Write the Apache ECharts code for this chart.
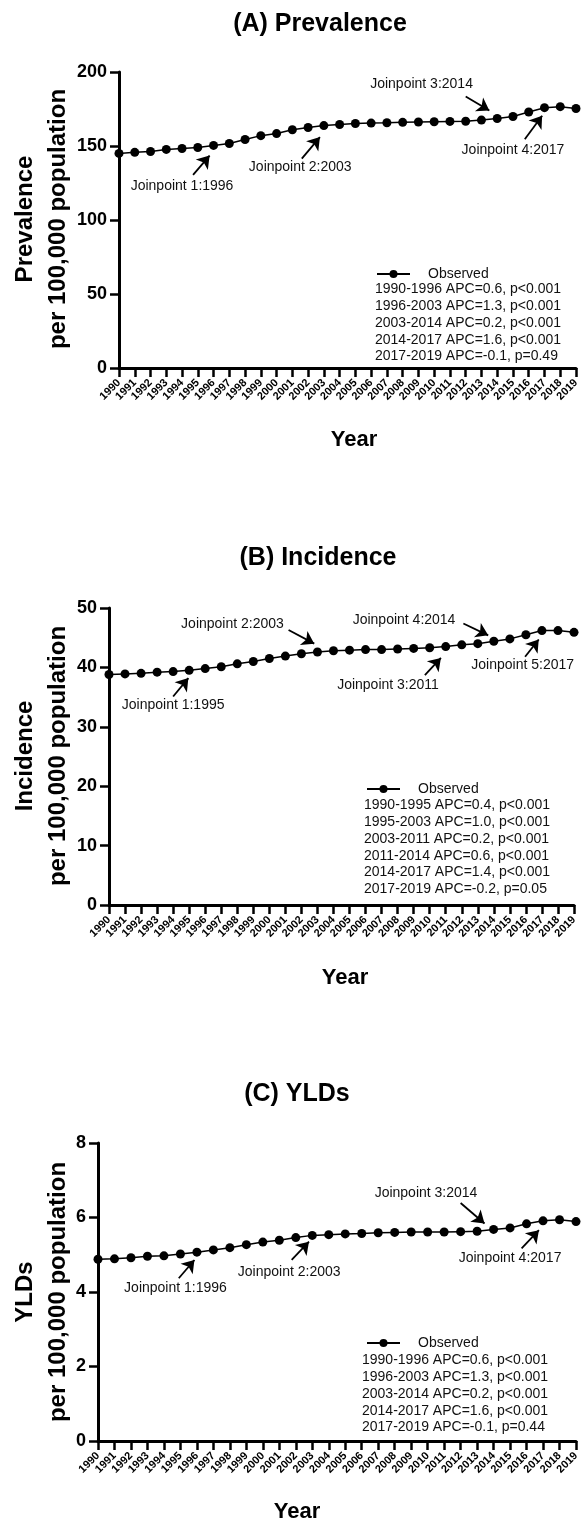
<!DOCTYPE html>
<html>
<head>
<meta charset="utf-8">
<script src="https://cdn.jsdelivr.net/npm/echarts@6/dist/echarts.min.js"></script>
<style>
html,body{margin:0;padding:0;background:#fff;}
#c{width:584px;height:1523px;}
</style>
</head>
<body>
<div id="c"></div>
<script>
const years = [1990,1991,1992,1993,1994,1995,1996,1997,1998,1999,2000,2001,2002,2003,2004,2005,2006,2007,2008,2009,2010,2011,2012,2013,2014,2015,2016,2017,2018,2019];
const prevalence = [145.0,145.7,146.3,147.7,148.3,149.0,150.4,151.7,154.4,157.0,158.4,161.0,162.5,163.8,164.5,165.2,165.5,165.7,166.0,166.2,166.4,166.6,166.7,167.5,168.6,169.9,173.0,175.9,176.6,175.3];
const incidence = [38.8,38.9,39.0,39.2,39.3,39.5,39.8,40.1,40.6,41.0,41.5,41.9,42.3,42.6,42.8,42.9,43.0,43.0,43.1,43.2,43.3,43.5,43.8,44.0,44.4,44.8,45.5,46.2,46.2,45.9];
const ylds = [4.88,4.89,4.92,4.96,4.97,5.02,5.07,5.13,5.19,5.27,5.34,5.39,5.46,5.52,5.54,5.56,5.57,5.59,5.60,5.61,5.61,5.61,5.62,5.63,5.68,5.72,5.83,5.91,5.94,5.89];

const titles = ['(A) Prevalence','(B) Incidence','(C) YLDs'];
const yNames = ['Prevalence\nper 100,000 population','Incidence\nper 100,000 population','YLDs\nper 100,000 population'];
const yMax = [200,50,8];
const yInterval = [50,10,2];

const apcA = ['1990-1996 APC=0.6, p<0.001','1996-2003 APC=1.3, p<0.001','2003-2014 APC=0.2, p<0.001','2014-2017 APC=1.6, p<0.001','2017-2019 APC=-0.1, p=0.49'];
const apcB = ['1990-1995 APC=0.4, p<0.001','1995-2003 APC=1.0, p<0.001','2003-2011 APC=0.2, p<0.001','2011-2014 APC=0.6, p<0.001','2014-2017 APC=1.4, p<0.001','2017-2019 APC=-0.2, p=0.05'];
const apcC = ['1990-1996 APC=0.6, p<0.001','1996-2003 APC=1.3, p<0.001','2003-2014 APC=0.2, p<0.001','2014-2017 APC=1.6, p<0.001','2017-2019 APC=-0.1, p=0.44'];

// annotations: label, text anchor [year, value], arrow tail, arrow tip
const notesA = [
  ['Joinpoint 1:1996',[1994.0,123],[1994.7,130.5],[1995.75,143.5]],
  ['Joinpoint 2:2003',[2001.5,135.5],[2001.6,141.5],[2002.75,156]],
  ['Joinpoint 3:2014',[2009.2,192],[2012.0,183.5],[2013.5,174]],
  ['Joinpoint 4:2017',[2015.0,147],[2015.75,154.5],[2016.85,170.5]]
];
const notesB = [
  ['Joinpoint 1:1995',[1994.0,33.6],[1994.0,35.1],[1994.95,38.2]],
  ['Joinpoint 2:2003',[1997.7,47.2],[2001.2,46.3],[2002.8,44.0]],
  ['Joinpoint 3:2011',[2007.4,37.0],[2009.7,38.7],[2010.7,41.6]],
  ['Joinpoint 4:2014',[2008.4,47.9],[2012.1,47.4],[2013.65,45.4]],
  ['Joinpoint 5:2017',[2015.8,40.4],[2015.95,41.8],[2016.8,44.7]]
];
const notesC = [
  ['Joinpoint 1:1996',[1994.7,4.10],[1994.9,4.37],[1995.85,4.86]],
  ['Joinpoint 2:2003',[2001.6,4.54],[2001.75,4.86],[2002.8,5.35]],
  ['Joinpoint 3:2014',[2009.9,6.66],[2012.0,6.39],[2013.45,5.84]],
  ['Joinpoint 4:2017',[2015.0,4.90],[2015.7,5.17],[2016.75,5.66]]
];

const FONT = "'Liberation Sans', Arial, Helvetica, sans-serif";
const grids = [
  {left:119, top:72, width:457, height:296},
  {left:109, top:608, width:465, height:297},
  {left:98, top:1143, width:478, height:298}
];
const seriesVals = [prevalence, incidence, ylds];
const notes = [notesA, notesB, notesC];

const xAxes = grids.map((g,i)=>({
  type:'value', gridIndex:i, min:1990, max:2019, interval:1,
  axisLine:{show:true, lineStyle:{color:'#000', width:3}},
  axisTick:{show:true, length:9, lineStyle:{color:'#000', width:2.5}},
  splitLine:{show:false},
  axisLabel:{rotate:45, fontSize:11, fontWeight:'bold', color:'#000', fontFamily:FONT, margin:13, formatter:(v)=>String(v)}
}));
const yAxes = grids.map((g,i)=>({
  type:'value', gridIndex:i, min:0, max:yMax[i], interval:yInterval[i],
  axisLine:{show:true, lineStyle:{color:'#000', width:3}},
  axisTick:{show:true, length:9, lineStyle:{color:'#000', width:2.5}},
  splitLine:{show:false},
  axisLabel:{fontSize:18, fontWeight:'bold', color:'#000', fontFamily:FONT, margin:12}
}));

const series = seriesVals.map((vals,i)=>({
  name:'Observed', type:'line', xAxisIndex:i, yAxisIndex:i,
  data: years.map((y,k)=>[y, vals[k]]),
  symbol:'circle', symbolSize:9,
  lineStyle:{color:'#000', width:1.5},
  itemStyle:{color:'#000'},
  markLine:{
    silent:true, symbol:['none','arrow'], symbolSize:12,
    lineStyle:{color:'#000', width:1.8, type:'solid'},
    label:{show:false},
    data: notes[i].map(n=>[{coord:n[2]},{coord:n[3]}])
  },
  markPoint:{
    silent:true, symbol:'circle', symbolSize:0,
    label:{show:true, position:'inside', color:'#111', fontSize:14, fontFamily:FONT, formatter:'{b}'},
    data: notes[i].map(n=>({name:n[0], coord:n[1]}))
  }
}));

const legendPos = [{left:376, top:267},{left:366, top:782},{left:366, top:1336}];
const legends = legendPos.map(p=>({
  data:['Observed'], left:p.left, top:p.top, itemWidth:33, itemHeight:10, padding:0,
  selectedMode:false,
  textStyle:{fontSize:14, color:'#111', fontFamily:FONT, padding:[0,0,0,13]}
}));

const apcBlocks = [
  {lines:apcA, x:375, y:281},
  {lines:apcB, x:364, y:797},
  {lines:apcC, x:362, y:1352}
];
const graphics = [];
apcBlocks.forEach(b=>{
  graphics.push({type:'text', left:b.x, top:b.y, style:{text:b.lines.join('\n'), font:'14px '+FONT, fill:'#111', lineHeight:16.8}});
});
const yNameCenters = [219, 756, 1292];
yNameCenters.forEach((cy,i)=>{
  graphics.push({type:'text', x:42, y:cy, rotation:Math.PI/2,
    style:{text:yNames[i], font:'bold 24px '+FONT, fill:'#000', textAlign:'center', textVerticalAlign:'middle', lineHeight:33}});
});
const yearPos = [[354,440],[345,978],[297,1512]];
yearPos.forEach(p=>{
  graphics.push({type:'text', x:p[0], y:p[1], style:{text:'Year', font:'bold 22px '+FONT, fill:'#000', textAlign:'center', textVerticalAlign:'middle'}});
});

const titleCenters = [[320,12],[318,546],[297,1082]];
const titleComps = titleCenters.map((t,i)=>({
  text:titles[i], left:t[0], top:t[1], textAlign:'center', padding:0,
  textStyle:{fontSize:25, fontWeight:'bold', color:'#000', fontFamily:FONT}
}));

const chart = echarts.init(document.getElementById('c'), null, {renderer:'canvas'});
chart.setOption({
  animation:false,
  backgroundColor:'#fff',
  title:titleComps,
  legend:legends,
  grid:grids,
  xAxis:xAxes,
  yAxis:yAxes,
  series:series,
  graphic:graphics
});
</script>
</body>
</html>
